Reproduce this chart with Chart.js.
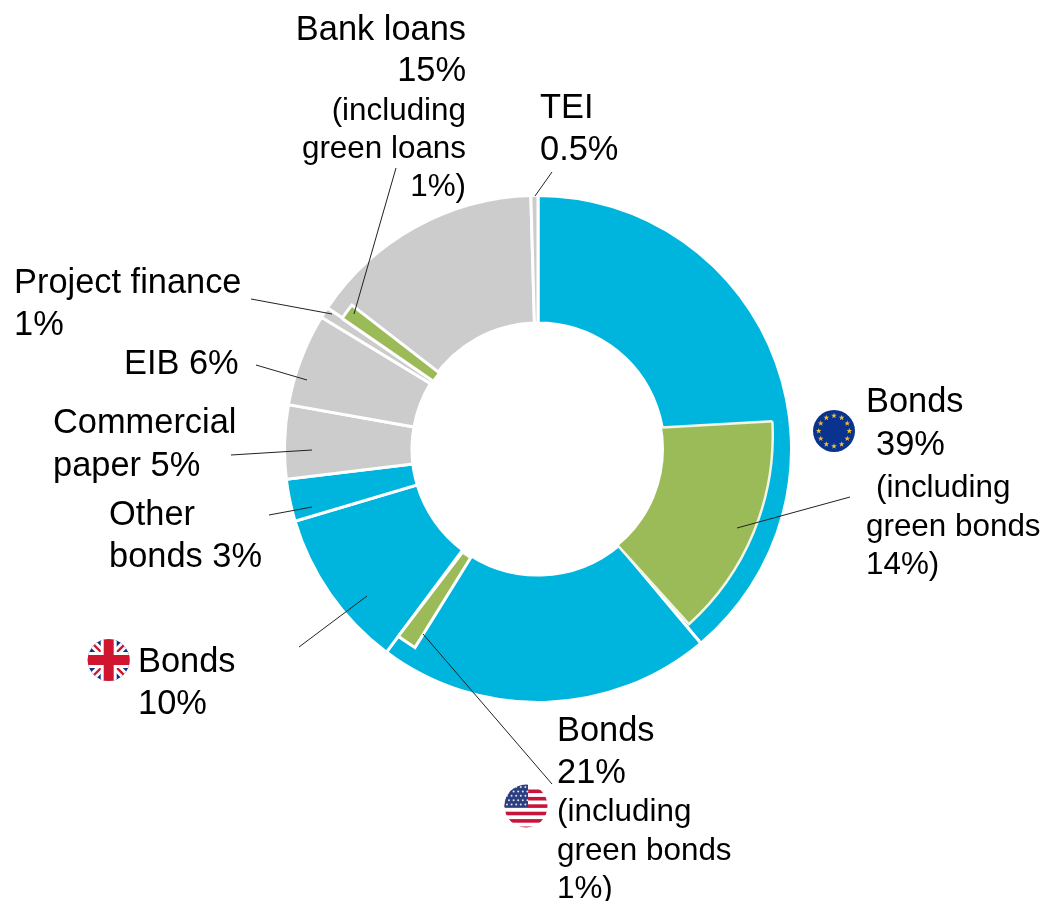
<!DOCTYPE html>
<html>
<head>
<meta charset="utf-8">
<title>Financing sources</title>
<script src="https://cdn.jsdelivr.net/npm/chart.js@4"></script>
<style>
  html, body { margin: 0; padding: 0; background: #fff; }
  #stage { position: relative; width: 1045px; height: 901px; overflow: hidden; }
  #stage canvas, #stage svg { position: absolute; }
  #overlay text { font-family: "Liberation Sans", Arial, sans-serif; fill: #000; }
</style>
</head>
<body>
<div id="stage">
  <svg id="overlay" width="1045" height="901" viewBox="0 0 1045 901" style="left:0;top:0;z-index:10"></svg>
</div>
<script>
// ring, clockwise from 12 o'clock
const categories = ['Bonds EUR', 'Bonds USD', 'Bonds GBP', 'Other bonds', 'Commercial paper', 'EIB', 'Project finance', 'Bank loans', 'TEI']
const shares = [38.9, 21.3, 10.2, 2.7, 4.7, 5.9, 0.7, 15.15, 0.45]
const colours = ['#00b5dd', '#00b5dd', '#00b5dd', '#00b5dd', '#cccccc', '#cccccc', '#cccccc', '#cccccc', '#cccccc']

// green parts, pasted on top of the ring
const green_names = ['Green bonds EUR', 'Green bonds USD', 'Green loans']
const green_shares = [14.2, 1.55, 0.87]

const stage = document.getElementById('stage')
const overlay = document.getElementById('overlay')
const NS = 'http://www.w3.org/2000/svg'

const make_chart = (cx, cy, radius, cutout, rotation, border, labels, data, bg, bc, z) => {
  const size = Math.round(radius * 2 + border)
  const canvas = document.createElement('canvas')
  canvas.width = size
  canvas.height = size
  canvas.style.left = (cx - size / 2) + 'px'
  canvas.style.top = (cy - size / 2) + 'px'
  canvas.style.zIndex = z
  stage.appendChild(canvas)
  return new Chart(canvas, {
    type: 'doughnut',
    data: {
      labels: labels,
      datasets: [{
        data: data,
        backgroundColor: bg,
        borderColor: bc,
        borderWidth: border,
        borderJoinStyle: 'miter'
      }]
    },
    options: {
      responsive: false,
      animation: false,
      cutout: cutout,
      rotation: rotation,
      plugins: { legend: { display: false }, tooltip: { enabled: false } }
    }
  })
}

make_chart(538, 449, 253.5, 126, 0, 3, categories, shares, colours, '#ffffff', 1)

const green_sector = (i, cx, cy, radius, cutout, rotation, border, edge) => {
  make_chart(cx, cy, radius, cutout, rotation, border,
    [green_names[i], ''], [green_shares[i], 100 - green_shares[i]],
    ['#9bbb59', 'rgba(0,0,0,0)'], [edge, 'rgba(0,0,0,0)'], 2 + i)
}
green_sector(0, 518, 435, 254, 60, 86.8, 2.5, '#f2f5e6')
green_sector(1, 523, 472, 206, 100, 211.8, 3, '#ffffff')
green_sector(2, 591, 490, 303, 150, 304.6, 3, '#ffffff')

const svg_el = (name, attrs, parent, text) => {
  const el = document.createElementNS(NS, name)
  for (const k in attrs) el.setAttribute(k, attrs[k])
  if (text !== undefined) el.textContent = text
  ;(parent || overlay).appendChild(el)
  return el
}

// the hole hides the inner ends of the green parts
svg_el('circle', { cx: 538, cy: 449, r: 126, fill: '#fff' })

// leader lines
const leaders = [
  [396, 168, 354, 314],
  [552, 172, 535, 196],
  [251, 299, 332, 314],
  [256, 365, 307, 380],
  [231, 455, 312, 450],
  [269, 515, 312, 507],
  [299, 647, 367, 596],
  [552, 784, 423, 634],
  [850, 497, 737, 528]
]
leaders.forEach(l => svg_el('line', { x1: l[0], y1: l[1], x2: l[2], y2: l[3], stroke: '#222', 'stroke-width': 1 }))

// text, size, x, baseline, anchor
const texts = [
  ['Bank loans', 34.4, 466, 40, 'end'],
  ['15%', 34.4, 466, 81, 'end'],
  ['(including', 31.4, 466, 120, 'end'],
  ['green loans', 31.4, 466, 158, 'end'],
  ['1%)', 31.4, 466, 196, 'end'],
  ['TEI', 34.4, 540, 118, 'start'],
  ['0.5%', 34.4, 540, 160, 'start'],
  ['Project finance', 34.4, 14, 293, 'start'],
  ['1%', 34.4, 14, 335, 'start'],
  ['EIB 6%', 34.4, 124, 374, 'start'],
  ['Commercial', 34.4, 53, 433, 'start'],
  ['paper 5%', 34.4, 53, 476, 'start'],
  ['Other', 34.4, 109, 525, 'start'],
  ['bonds 3%', 34.4, 109, 567, 'start'],
  ['Bonds', 34.4, 138, 672, 'start'],
  ['10%', 34.4, 138, 714, 'start'],
  ['Bonds', 34.4, 866, 412, 'start'],
  ['39%', 34.4, 876, 455, 'start'],
  ['(including', 31.4, 876, 497, 'start'],
  ['green bonds', 31.4, 866, 536, 'start'],
  ['14%)', 31.4, 866, 574, 'start'],
  ['Bonds', 34.4, 557, 741, 'start'],
  ['21%', 34.4, 557, 783, 'start'],
  ['(including', 31.4, 557, 821, 'start'],
  ['green bonds', 31.4, 557, 860, 'start'],
  ['1%)', 31.4, 557, 898, 'start']
]
texts.forEach(t => svg_el('text', { x: t[2], y: t[3], 'font-size': t[1], 'text-anchor': t[4] }, overlay, t[0]))

// flags
const defs = svg_el('defs', {})
const flag_group = (id, cx, cy, r) => {
  const clip = svg_el('clipPath', { id: id }, defs)
  svg_el('circle', { cx: cx, cy: cy, r: r }, clip)
  return svg_el('g', { 'clip-path': `url(#${id})` })
}
const star_points = (cx, cy, r) => {
  const pts = []
  for (let i = 0; i < 10; i++) {
    const a = -Math.PI / 2 + i * Math.PI / 5
    const d = i % 2 ? r * 0.4 : r
    pts.push((cx + d * Math.cos(a)).toFixed(2) + ',' + (cy + d * Math.sin(a)).toFixed(2))
  }
  return pts.join(' ')
}

// EU
const eu = flag_group('clip_eu', 834, 431, 21)
svg_el('rect', { x: 813, y: 410, width: 42, height: 42, fill: '#0a3390' }, eu)
for (let i = 0; i < 12; i++) {
  const a = i * Math.PI / 6
  svg_el('polygon', { points: star_points(834 + 15.3 * Math.cos(a), 431 + 15.3 * Math.sin(a), 3), fill: '#e8c22e' }, eu)
}

// US
const us = flag_group('clip_us', 526, 806, 21.5)
svg_el('rect', { x: 504, y: 784, width: 44, height: 44, fill: '#fff' }, us)
for (let i = 0; i < 6; i++) {
  svg_el('rect', { x: 504, y: 789.5 + i * 7.4, width: 44, height: 3.6, fill: '#c8143c' }, us)
}
svg_el('rect', { x: 504, y: 784, width: 24, height: 23, fill: '#2b3f80' }, us)
for (let r = 0; r < 5; r++) {
  for (let c = 0; c < 5; c++) {
    svg_el('circle', { cx: 507 + c * 4.6 + (r % 2) * 2, cy: 787 + r * 4.4, r: 1, fill: '#dfe3f0' }, us)
  }
}

// UK
const uk = flag_group('clip_uk', 108.7, 660, 21)
svg_el('rect', { x: 87, y: 638, width: 44, height: 44, fill: '#0f2f87' }, uk)
svg_el('line', { x1: 88, y1: 639, x2: 130, y2: 681, stroke: '#fff', 'stroke-width': 8 }, uk)
svg_el('line', { x1: 130, y1: 639, x2: 88, y2: 681, stroke: '#fff', 'stroke-width': 8 }, uk)
svg_el('line', { x1: 88, y1: 639, x2: 130, y2: 681, stroke: '#d0152f', 'stroke-width': 2.4 }, uk)
svg_el('line', { x1: 130, y1: 639, x2: 88, y2: 681, stroke: '#d0152f', 'stroke-width': 2.4 }, uk)
svg_el('rect', { x: 87, y: 652, width: 44, height: 16, fill: '#fff' }, uk)
svg_el('rect', { x: 100.7, y: 638, width: 16, height: 44, fill: '#fff' }, uk)
svg_el('rect', { x: 87, y: 655, width: 44, height: 10, fill: '#d0152f' }, uk)
svg_el('rect', { x: 103.7, y: 638, width: 10, height: 44, fill: '#d0152f' }, uk)
</script>
</body>
</html>
